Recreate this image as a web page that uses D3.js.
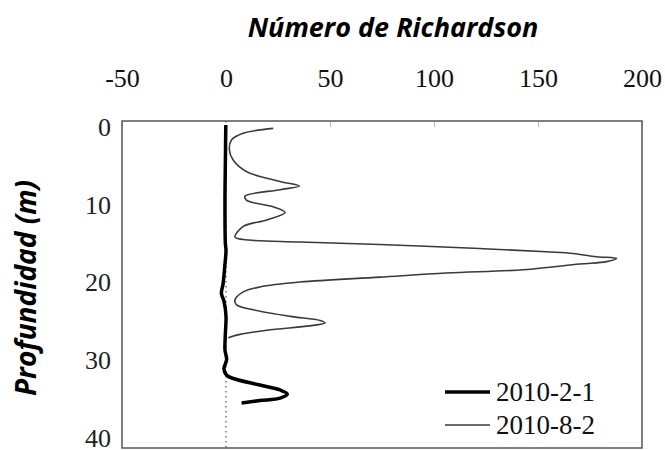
<!DOCTYPE html>
<html>
<head>
<meta charset="utf-8">
<script src="https://cdn.jsdelivr.net/npm/d3@7"></script>
<style>
    body { margin: 0; background: #fff; }
    svg { display: block; }
</style>
</head>
<body>
<svg id="chart" width="665" height="450"></svg>
<script>
// Profiles: depth (m) and Richardson number
const depthFeb = [0.5, 5, 10, 15, 15.8, 17.8, 19.9, 21.1, 22, 23.9, 26, 28, 29.2, 30.3, 31.1, 31.5, 32.3, 32.9, 33.4, 33.9, 34.2, 34.5];
const riFeb = [-0.1, -0.3, -0.5, -0.3, 0, -0.6, -1.4, -2.2, -1, 0, -0.3, -0.5, 0.3, -1, 0.3, 3.5, 16.3, 26, 29.5, 26, 16.3, 7.5];

const depthAug = [0.9, 1.5, 2.3, 3.5, 4.8, 6.2, 7.4, 7.95, 8.4, 9.2, 9.7, 10.5, 11.2, 12.1, 12.9, 14.2, 14.5, 14.8, 15.1, 15.6, 16.0, 16.2, 16.6, 16.8, 17.2, 17.5, 18.2, 18.6, 19.1, 19.7, 20.3, 20.9, 21.9, 22.5, 23.1, 23.9, 24.4, 24.7, 25.0, 25.6, 26.1, 26.5];
const riAug = [22.7, 8.3, 2.7, 1.6, 3.5, 10, 26, 35.3, 26, 9.1, 10, 22.7, 28.4, 19.6, 8.3, 4.3, 8.3, 35.6, 74, 122, 154, 167, 178, 187.8, 183, 170, 143, 106, 74, 35.6, 16.3, 8.3, 4.3, 5.1, 13.1, 30.8, 45.2, 47.6, 42, 19.6, 6.7, 1.1];

const xTicks = [-50, 0, 50, 100, 150, 200];
const yTicks = [0, 10, 20, 30, 40];
const seriesNames = ["2010-2-1", "2010-8-2"];

const serif = '"Liberation Serif"';

const svg = d3.select("#chart"),
    margin = { top: 121, right: 23, bottom: 2, left: 122 },
    width = 665 - margin.left - margin.right,
    height = 450 - margin.top - margin.bottom;

const g = svg.append("g")
    .attr("transform", `translate(${margin.left},${margin.top})`);

const x = d3.scaleLinear().domain([-50, 200]).range([0, width]);
const y = d3.scaleLinear().domain([0, 40]).range([0, height]);
// the depth labels sit a little inside the frame in the original
const yLabel = d3.scaleLinear().domain([0, 40]).range([6, 317]);

// Title
svg.append("text")
    .attr("x", 393)
    .attr("y", 37)
    .attr("text-anchor", "middle")
    .style("font-family", '"Open Sans"')
    .style("font-weight", "bold")
    .style("font-style", "italic")
    .style("font-size", "27px")
    .text("Número de Richardson");

// Y title
svg.append("text")
    .attr("transform", "translate(36,288) rotate(-90)")
    .attr("text-anchor", "middle")
    .style("font-family", '"Open Sans"')
    .style("font-weight", "bold")
    .style("font-style", "italic")
    .style("font-size", "28px")
    .text("Profundidad (m)");

// Top axis labels
const xAxis = g.append("g")
    .call(d3.axisTop(x).tickValues(xTicks).tickSize(0).tickPadding(34).tickFormat(d => String(d)));
xAxis.select(".domain").remove();
xAxis.selectAll("text")
    .attr("dy", "0em")
    .style("font-family", serif)
    .style("font-size", "26px")
    .style("fill", "#111");

// Small inward ticks at the top
g.append("g")
    .call(d3.axisTop(x).tickValues(xTicks.filter(d => d !== 0)).tickSize(-6).tickFormat(""))
    .call(a => a.select(".domain").remove())
    .selectAll("line").attr("stroke", "#bbb");

// Left axis labels
const yAxis = g.append("g")
    .call(d3.axisLeft(yLabel).tickValues(yTicks).tickSize(0).tickPadding(11).tickFormat(d => String(d)));
yAxis.select(".domain").remove();
yAxis.selectAll("text")
    .style("font-family", serif)
    .style("font-size", "26px")
    .style("fill", "#222");

// Zero reference line
g.append("line")
    .attr("x1", x(0)).attr("x2", x(0))
    .attr("y1", 0).attr("y2", height)
    .attr("stroke", "#777")
    .attr("stroke-width", 1.5)
    .attr("stroke-dasharray", "1.5,3.5");

// Frame
g.append("rect")
    .attr("width", width)
    .attr("height", height)
    .attr("fill", "none")
    .attr("stroke", "#555")
    .attr("stroke-width", 1.5);

const line = d3.line()
    .x(d => x(d[1]))
    .y(d => y(d[0]))
    .curve(d3.curveCatmullRom.alpha(0.5));

g.append("path")
    .datum(d3.zip(depthAug, riAug))
    .attr("d", line)
    .attr("fill", "none")
    .attr("stroke", "#3a3a3a")
    .attr("stroke-width", 1.6);

g.append("path")
    .datum(d3.zip(depthFeb, riFeb))
    .attr("d", line)
    .attr("fill", "none")
    .attr("stroke", "#000")
    .attr("stroke-width", 3.5)
    .attr("stroke-linejoin", "round");

// Legend
const legend = svg.append("g").attr("transform", "translate(445,392)");
const legendItem = legend.selectAll(".legend-item")
    .data(seriesNames)
    .enter().append("g")
    .attr("class", "legend-item")
    .attr("transform", (d, i) => `translate(0,${i * 33})`);

legendItem.append("line")
    .attr("x1", 0).attr("x2", 45)
    .attr("stroke", (d, i) => i === 0 ? "#000" : "#3a3a3a")
    .attr("stroke-width", (d, i) => i === 0 ? 3.5 : 1.6);

legendItem.append("text")
    .attr("x", 51)
    .attr("y", 9)
    .style("font-family", serif)
    .style("font-size", "27px")
    .style("fill", "#111")
    .text(d => d);
</script>
</body>
</html>
